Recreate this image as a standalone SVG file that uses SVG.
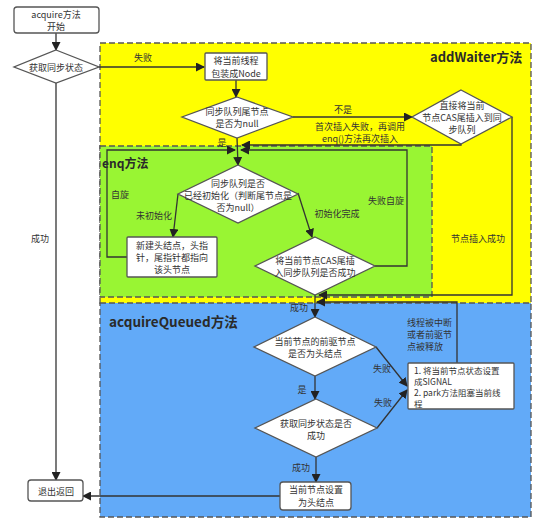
<svg xmlns="http://www.w3.org/2000/svg" width="554" height="531" viewBox="0 0 554 531">
<defs>
<marker id="ah" markerWidth="9" markerHeight="9" refX="8" refY="4.5" orient="auto" markerUnits="userSpaceOnUse">
<path d="M0,0 L9,4.5 L0,9 Z" fill="#222"/>
</marker>
<style>
text{font-family:"Noto Sans CJK SC","Liberation Sans",sans-serif;font-size:9px;fill:#333;text-anchor:middle;dominant-baseline:central}
.l{text-anchor:start}
.s{font-size:8.5px}
.t{font-weight:bold;font-size:13px;text-anchor:start;fill:#2a2a2a}
.box{fill:#fff;stroke:#555;stroke-width:1.3}
.c{fill:none;stroke:#333;stroke-width:1.3}
.a{marker-end:url(#ah)}
.reg{stroke:#555;stroke-width:1.3;stroke-dasharray:6,3}
</style>
</defs>
<rect width="554" height="531" fill="#fff"/>
<g id="regions">
<rect class="reg" x="100" y="43" width="431" height="262" fill="#FFFF00"/>
<rect class="reg" x="100" y="146" width="332" height="151" fill="#99F533"/>
<rect class="reg" x="100" y="303" width="431" height="214" fill="#62AAF8"/>
<text class="t" x="430" y="56">addWaiter方法</text>
<text class="t" x="102" y="162" style="font-size:12px">enq方法</text>
<text class="t" x="109" y="321" style="font-size:13.5px">acquireQueued方法</text>
</g>
<g id="connectors">
<path class="c a" d="M56,32 L56,50"/>
<path class="c a" d="M56,83 L56,480"/>
<text x="40" y="238">成功</text>
<path class="c a" d="M99,67 L204,67"/>
<text x="143" y="57">失败</text>
<path class="c a" d="M236,80 L236,97"/>
<path class="c a" d="M293,117 L412,117"/>
<text x="343" y="109">不是</text>
<path class="c a" d="M461,144 L461,145 L242,145"/>
<text x="360" y="126">首次插入失败，再调用</text>
<text x="360" y="138">enq()方法再次插入</text>
<path class="c a" d="M237,138 L238,165"/>
<text x="222" y="142">是</text>
<path class="c a" d="M127,257 L107,257 L107,150 L235,150"/>
<text x="120" y="194">自旋</text>
<path class="c a" d="M375,266 L407,266 L407,150 L241,150"/>
<text x="386" y="200">失败自旋</text>
<path class="c a" d="M178,194 L173,237"/>
<text x="154" y="215">未初始化</text>
<path class="c a" d="M298,193 L312,237"/>
<text x="337" y="213">初始化完成</text>
<path class="c a" d="M315,295 L315,317"/>
<text x="299" y="307">成功</text>
<path class="c a" d="M512,117 L512,295 L319,295"/>
<text x="478" y="238">节点插入成功</text>
<path class="c a" d="M457,363 L457,302 L317,302"/>
<text class="l" x="407" y="322">线程被中断</text>
<text class="l" x="407" y="334">或者前驱节</text>
<text class="l" x="407" y="346">点被释放</text>
<path class="c a" d="M376,347 L407,386"/>
<text x="382" y="368">失败</text>
<path class="c a" d="M377,428 L407,390"/>
<text x="383" y="402">失败</text>
<path class="c a" d="M315,376 L315,399"/>
<text x="302" y="389">是</text>
<path class="c a" d="M316,457 L316,482"/>
<text x="301" y="467">成功</text>
<path class="c a" d="M280,496 L83,496"/>
</g>
<g id="start">
<rect class="box" x="14" y="7" width="85" height="26" rx="3"/>
<text x="56" y="14">acquire方法</text>
<text x="56" y="26">开始</text>
</g>
<g id="getState">
<polygon class="box" points="56,50 99,67 56,83 14,67"/>
<text x="56" y="67">获取同步状态</text>
</g>
<g id="exit">
<rect class="box" x="28" y="480" width="55" height="21" rx="3"/>
<text x="56" y="491">退出返回</text>
</g>
<g id="wrapNode">
<rect class="box" x="205" y="53" width="62" height="27" rx="1"/>
<text x="236" y="60">将当前线程</text>
<text x="236" y="73">包装成Node</text>
</g>
<g id="tailNull">
<polygon class="box" points="237,97 293,117 237,138 182,117"/>
<text x="237" y="111">同步队列尾节点</text>
<text x="237" y="123">是否为null</text>
</g>
<g id="directCas">
<polygon class="box" points="461,90 512,117 461,144 412,117"/>
<text x="462" y="105">直接将当前</text>
<text x="462" y="117">节点CAS尾插入到同</text>
<text x="462" y="129">步队列</text>
</g>
<g id="initCheck">
<polygon class="box" points="238,165 298,194 238,223 178,194"/>
<text x="238" y="183">同步队列是否</text>
<text x="238" y="195">已经初始化（判断尾节点是</text>
<text x="238" y="207">否为null）</text>
</g>
<g id="newHead">
<rect class="box" x="127" y="237" width="90" height="40" rx="1"/>
<text x="172" y="245">新建头结点，头指</text>
<text x="172" y="257">针，尾指针都指向</text>
<text x="172" y="269">该头节点</text>
</g>
<g id="casTail">
<polygon class="box" points="315,237 375,266 315,295 255,266"/>
<text x="315" y="260">将当前节点CAS尾插</text>
<text x="315" y="272">入同步队列是否成功</text>
</g>
<g id="prevHead">
<polygon class="box" points="315,317 376,347 315,376 254,347"/>
<text x="315" y="341">当前节点的前驱节点</text>
<text x="315" y="353">是否为头结点</text>
</g>
<g id="tryAcquire">
<polygon class="box" points="316,399 377,428 316,457 255,428"/>
<text x="316" y="423">获取同步状态是否</text>
<text x="316" y="435">成功</text>
</g>
<g id="signalPark">
<rect class="box" x="408" y="363" width="106" height="46" rx="1"/>
<text class="l s" x="414" y="369.5">1. 将当前节点状态设置</text>
<text class="l s" x="414" y="380.5">成SIGNAL</text>
<text class="l s" x="414" y="392">2. park方法阻塞当前线</text>
<text class="l s" x="414" y="403">程</text>
</g>
<g id="setHead">
<rect class="box" x="280" y="482" width="71" height="28" rx="3"/>
<text x="316" y="489">当前节点设置</text>
<text x="316" y="502">为头结点</text>
</g>
</svg>
